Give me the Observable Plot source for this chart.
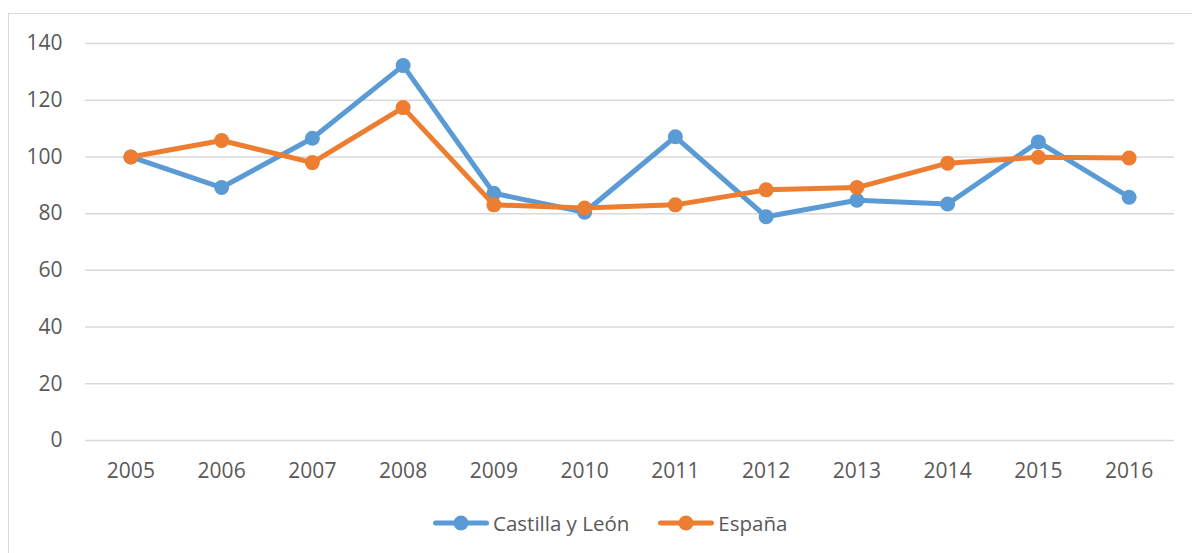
<!DOCTYPE html>
<html>
<head>
<meta charset="utf-8">
<script src="https://cdn.jsdelivr.net/npm/d3@7"></script>
<script src="https://cdn.jsdelivr.net/npm/@observablehq/plot@0.6"></script>
<style>
  html, body { margin: 0; padding: 0; background: #fff; overflow: hidden; }
  body { width: 1192px; height: 553px; position: relative; font-family: "Open Sans", sans-serif; }
  #frame { position: absolute; left: 8px; top: 13px; width: 1200px; height: 600px; border: 1px solid #d9d9d9; box-sizing: border-box; }
  #chart { position: absolute; left: 0; top: 0; }
  #legend { position: absolute; left: 433px; top: 508px; height: 30px; display: flex; align-items: center; color: #595959; font-size: 20.5px; }
  .item { display: flex; align-items: center; }
  .item svg { display: block; margin-right: 4px; }
  .item + .item { margin-left: 29px; }
</style>
</head>
<body>
<div id="frame"></div>
<div id="chart"></div>
<div id="legend"></div>
<script>
const years = ["2005","2006","2007","2008","2009","2010","2011","2012","2013","2014","2015","2016"];
const seriesNames = ["Castilla y León", "España"];
const castillaValues = [100, 89.2, 106.6, 132.2, 87.2, 80.5, 107.1, 78.9, 84.7, 83.4, 105.3, 85.8];
const espanaValues = [100, 105.8, 98.0, 117.4, 83.1, 82.0, 83.1, 88.4, 89.2, 97.8, 99.9, 99.6];
const seriesColors = ["#5B9BD5", "#ED7D31"];
const yTicks = [0, 20, 40, 60, 80, 100, 120, 140];

const allValues = [castillaValues, espanaValues];
const rows = [];
seriesNames.forEach((s, i) => {
  years.forEach((y, j) => rows.push({series: s, year: y, value: allValues[i][j]}));
});

const marks = [
  Plot.ruleY(yTicks, {stroke: "#d9d9d9", strokeWidth: 1.5}),
  Plot.axisY({ticks: yTicks, tickSize: 0, tickPadding: 23, fontSize: 21, fill: "#595959", label: null}),
  Plot.axisX({tickSize: 0, tickPadding: 23, fontSize: 21, fill: "#595959", label: null})
];
seriesNames.forEach((s) => {
  const d = rows.filter(r => r.series === s);
  marks.push(Plot.line(d, {x: "year", y: "value", stroke: "series", strokeWidth: 5, strokeLinejoin: "round", strokeLinecap: "round"}));
  marks.push(Plot.dot(d, {x: "year", y: "value", fill: "series", r: 7.5, stroke: null}));
});

const chart = Plot.plot({
  width: 1192,
  height: 490,
  marginLeft: 85,
  marginRight: 18,
  marginTop: 43,
  marginBottom: 50,
  style: {fontFamily: "'Open Sans', sans-serif", background: "transparent", color: "#595959"},
  x: {type: "point", domain: years, padding: 0.5, round: false},
  y: {domain: [0, 140]},
  color: {domain: seriesNames, range: seriesColors},
  marks
});
document.getElementById("chart").appendChild(chart);

const legend = document.getElementById("legend");
seriesNames.forEach((s, i) => {
  const item = document.createElement("div");
  item.className = "item";
  const c = seriesColors[i];
  item.innerHTML = `<svg width="56" height="16"><line x1="2.5" y1="8" x2="53.5" y2="8" stroke="${c}" stroke-width="5" stroke-linecap="round"/><circle cx="28" cy="8" r="7.5" fill="${c}"/></svg><span>${s}</span>`;
  legend.appendChild(item);
});
</script>
</body>
</html>
